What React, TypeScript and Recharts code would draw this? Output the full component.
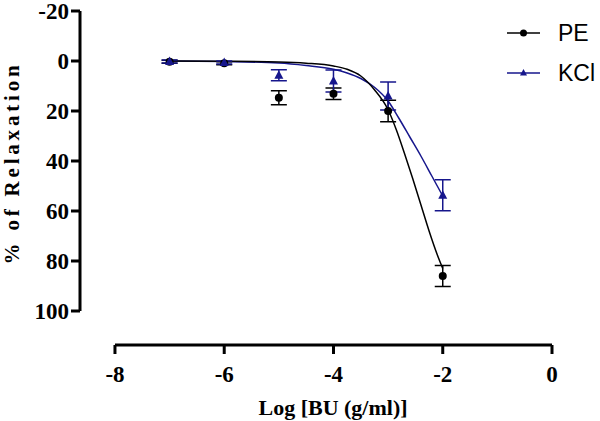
import { ComposedChart, Line, Scatter, ErrorBar, XAxis, YAxis, ReferenceLine, Legend } from 'recharts';

// dose (log g/ml) and mean ± SEM of % relaxation
const doses = [-7, -6, -5, -4, -3, -2];
const peMean = [0.3, 0.9, 14.7, 13.1, 20, 86];
const peSem = [0.6, 0.6, 2.8, 2.3, 4.3, 4.2];
const kclMean = [0.2, 0.6, 5.7, 8, 14, 53.7];
const kclSem = [0.6, 0.6, 2.2, 4.4, 5.6, 6.2];

// fitted curves
const peFitX = [-7, -6, -5, -4.5, -4, -3.75, -3.5, -3.25, -3, -2.85, -2.7, -2.55, -2.4, -2.25, -2.1, -2];
const peFitY = [0, 0.1, 0.4, 0.9, 2, 3.3, 6, 11.5, 19.5, 27.5, 37, 47, 57.5, 68, 77.5, 83];
const kclFitX = [-7, -6, -5, -4.5, -4, -3.75, -3.5, -3.25, -3, -2.8, -2.6, -2.4, -2.2, -2];
const kclFitY = [0, 0.2, 0.8, 1.8, 3.3, 4.8, 7, 10.5, 16, 23, 30.5, 38, 46, 54];

const xTicks = [-8, -6, -4, -2, 0];
const yTicks = [-20, 0, 20, 40, 60, 80, 100];

const NAVY = '#16168c';
const SERIF = "'Liberation Serif', 'Times New Roman', serif";
const SANS = "'Liberation Sans', Arial, sans-serif";

const pePoints = doses.map((x, i) => ({ x, y: peMean[i], err: peSem[i] }));
const kclPoints = doses.map((x, i) => ({ x, y: kclMean[i], err: kclSem[i] }));
const peFit = peFitX.map((x, i) => ({ x, y: peFitY[i] }));
const kclFit = kclFitX.map((x, i) => ({ x, y: kclFitY[i] }));

const Dot = (props: any) => <circle cx={props.cx} cy={props.cy} r={4} fill="#000" />;
const Tri = (props: any) => {
    const { cx, cy } = props;
    return <polygon points={`${cx},${cy - 5} ${cx - 4.5},${cy + 3.5} ${cx + 4.5},${cy + 3.5}`} fill={NAVY} />;
};

const renderLegend = () => (
    <svg width={95} height={80}>
        <line x1={2} y1={20} x2={35} y2={20} stroke="#000" strokeWidth={1.5} />
        <circle cx={18.5} cy={20} r={3.5} fill="#000" />
        <text x={53} y={28} fontFamily={SANS} fontSize={23} fill="#000">PE</text>
        <line x1={2} y1={60} x2={35} y2={60} stroke={NAVY} strokeWidth={1.5} />
        <polygon points="18.5,56 15,62.5 22,62.5" fill={NAVY} />
        <text x={53} y={68} fontFamily={SANS} fontSize={23} fill="#000">KCl</text>
    </svg>
);

export default function App() {
    const tickStyle = { fontFamily: SERIF, fontSize: 23, fontWeight: 700, fill: '#000' };
    return (
        <div style={{ position: 'absolute', left: 0, top: 0, background: '#fff' }}>
            <ComposedChart width={600} height={421} margin={{ top: 11, right: 48, bottom: 0, left: 8 }}>
                <XAxis
                    dataKey="x"
                    type="number"
                    domain={[-8.64, 0]}
                    ticks={xTicks}
                    interval={0}
                    axisLine={false}
                    tickLine={{ stroke: '#000', strokeWidth: 3 }}
                    tickSize={9}
                    tickMargin={12}
                    tick={tickStyle}
                    height={76}
                    label={{
                        content: () => (
                            <text x={333} y={415} textAnchor="middle" fontFamily={SERIF} fontSize={22} fontWeight={700} fill="#000">
                                Log [BU (g/ml)]
                            </text>
                        ),
                    }}
                />
                <YAxis
                    dataKey="y"
                    type="number"
                    domain={[-20, 113.6]}
                    reversed
                    ticks={yTicks}
                    interval={0}
                    axisLine={false}
                    tickLine={{ stroke: '#000', strokeWidth: 3 }}
                    tickSize={9}
                    tickMargin={2}
                    tick={tickStyle}
                    width={72}
                    label={{
                        content: () => (
                            <text
                                x={19}
                                y={163}
                                transform="rotate(-90, 19, 163)"
                                textAnchor="middle"
                                fontFamily={SERIF}
                                fontSize={21}
                                fontWeight={700}
                                letterSpacing={3.8}
                                fill="#000"
                            >
                                % of Relaxation
                            </text>
                        ),
                    }}
                />
                <ReferenceLine segment={[{ x: -8.64, y: -20 }, { x: -8.64, y: 100 }]} stroke="#000" strokeWidth={3} ifOverflow="visible" />
                <ReferenceLine segment={[{ x: -8, y: 113.6 }, { x: 0, y: 113.6 }]} stroke="#000" strokeWidth={3} ifOverflow="visible" />
                <Legend layout="vertical" align="center" verticalAlign="middle" content={renderLegend} wrapperStyle={{ position: 'absolute', left: 505, top: 13, width: 95 }} />
                <Line data={kclFit} dataKey="y" type="monotone" stroke={NAVY} strokeWidth={1.5} dot={false} isAnimationActive={false} legendType="none" />
                <Line data={peFit} dataKey="y" type="monotone" stroke="#000" strokeWidth={1.5} dot={false} isAnimationActive={false} legendType="none" />
                <Scatter data={pePoints} dataKey="y" shape={Dot} isAnimationActive={false}>
                    <ErrorBar dataKey="err" direction="y" width={8} stroke="#000" strokeWidth={1.5} />
                </Scatter>
                <Scatter data={kclPoints} dataKey="y" shape={Tri} isAnimationActive={false}>
                    <ErrorBar dataKey="err" direction="y" width={8} stroke={NAVY} strokeWidth={1.5} />
                </Scatter>
            </ComposedChart>
        </div>
    );
}
